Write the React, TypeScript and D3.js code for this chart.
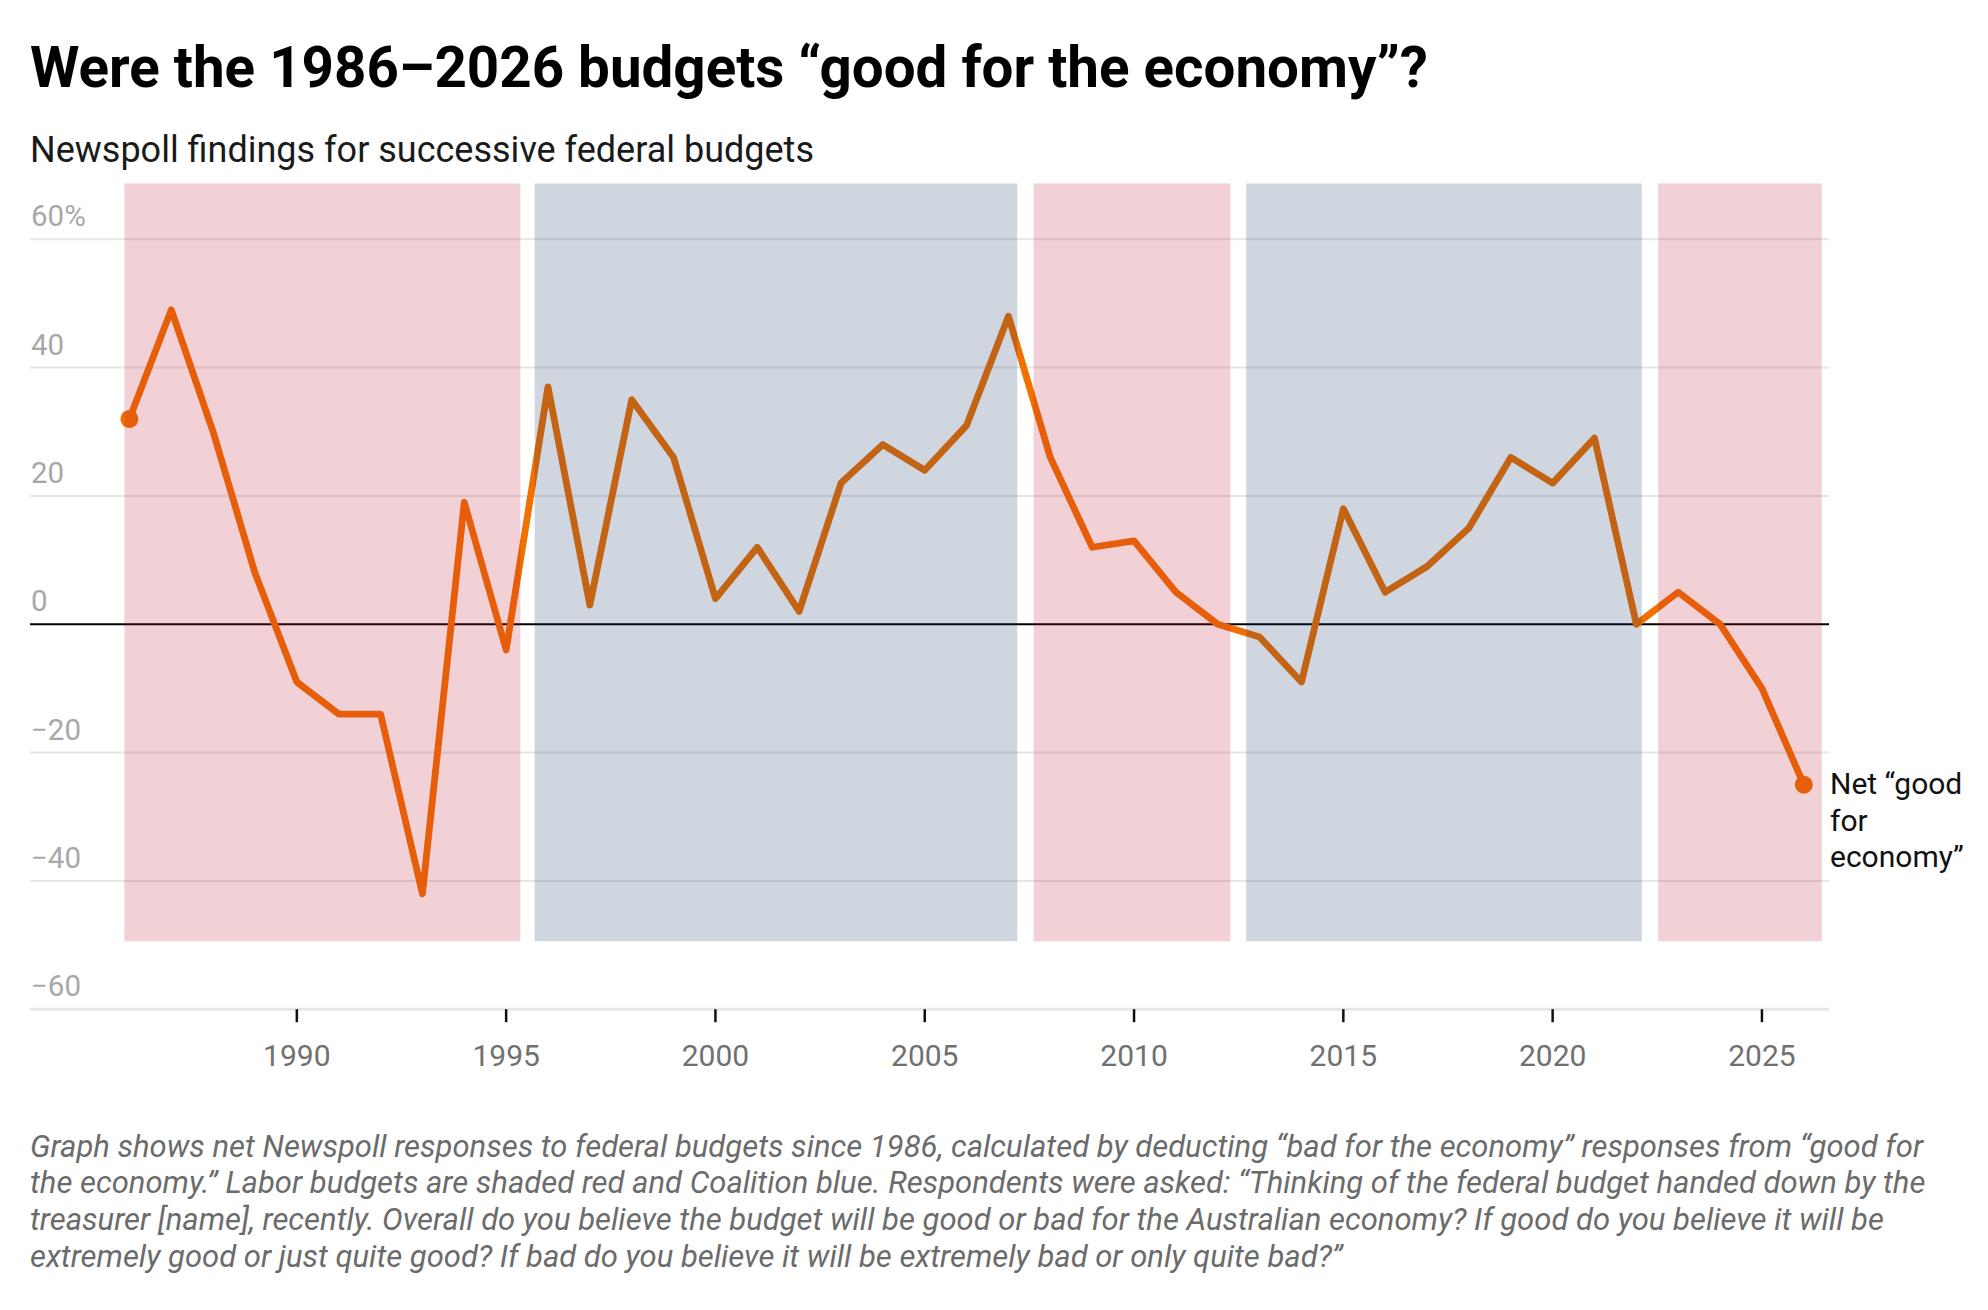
import * as d3 from 'd3';
import * as React from 'react';

// Newspoll net "good for the economy" per federal budget
const years = d3.range(1986, 2027);
const netGood = [
    32, 49, 30, 8, -9, -14, -14, -42, 19, -4,
    37, 3, 35, 26, 4, 12, 2, 22, 28, 24,
    31, 48, 26, 12, 13, 5, 0, -2, -9, 18,
    5, 9, 15, 26, 22, 29, 0, 5, 0, -10,
    -25,
];

// government terms, shaded over the line
const termParty = ['labor', 'coalition', 'labor', 'coalition', 'labor'];
const termStart = [1985.88, 1995.68, 2007.6, 2012.68, 2022.52];
const termEnd = [1995.34, 2007.21, 2012.3, 2022.13, 2026.43];
const termTop = 68.7;
const termBottom = -49.4;

const yTicks = [60, 40, 20, 0, -20, -40, -60];
const xTicks = [1990, 1995, 2000, 2005, 2010, 2015, 2020, 2025];

const labelLines = ['Net \u201cgood', 'for', 'economy\u201d'];
const noteLines = [
    'Graph shows net Newspoll responses to federal budgets since 1986, calculated by deducting \u201cbad for the economy\u201d responses from \u201cgood for',
    'the economy.\u201d Labor budgets are shaded red and Coalition blue. Respondents were asked: \u201cThinking of the federal budget handed down by the',
    'treasurer [name], recently. Overall do you believe the budget will be good or bad for the Australian economy? If good do you believe it will be',
    'extremely good or just quite good? If bad do you believe it will be extremely bad or only quite bad?\u201d',
];

const width = 1988;
const height = 1310;
const font = 'Roboto, "Noto Sans", sans-serif';
const lineColour = '#f07000';
const partyFill: Record<string, string> = {
    labor: 'rgb(190,25,50)',
    coalition: 'rgb(15,50,100)',
};

const gridLeft = 30;
const gridRight = 1829;

export default function App() {
    const x = d3.scaleLinear().domain([1986, 2026]).range([129.4, 1803.8]);
    const y = d3.scaleLinear().domain([-60, 60]).range([1009.2, 239.3]);

    const points = years.map((yr, i) => ({ yr, v: netGood[i] }));
    const line = d3.line<{ yr: number; v: number }>()
        .x(d => x(d.yr))
        .y(d => y(d.v));

    const first = points[0];
    const last = points[points.length - 1];

    return (
        <svg
            width={width}
            height={height}
            style={{ position: 'absolute', left: 0, top: 0, background: '#fff' }}
            fontFamily={font}
        >
            <text x={30} y={87} fontSize={56.5} fontWeight={700} fill="#000">
                Were the 1986–2026 budgets “good for the economy”?
            </text>
            <text x={30} y={162} fontSize={36} fill="#1a1a1a">
                Newspoll findings for successive federal budgets
            </text>

            {/* grid */}
            {yTicks.filter(t => t !== 0).map(t => (
                <line
                    key={t}
                    x1={gridLeft}
                    x2={gridRight}
                    y1={y(t)}
                    y2={y(t)}
                    stroke="#e6e6e6"
                    strokeWidth={t === -60 ? 3 : 2}
                />
            ))}
            <line x1={gridLeft} x2={gridRight} y1={y(0)} y2={y(0)} stroke="#000" strokeWidth={2} />
            {yTicks.map(t => (
                <text key={t} x={31} y={y(t) - 13} fontSize={29.5} fill="#a8a8a8">
                    {t === 60 ? '60%' : t < 0 ? `\u2212${-t}` : String(t)}
                </text>
            ))}

            {/* series */}
            <path
                d={line(points) || ''}
                fill="none"
                stroke={lineColour}
                strokeWidth={6.8}
                strokeLinejoin="round"
                strokeLinecap="round"
            />
            <circle cx={x(first.yr)} cy={y(first.v)} r={9} fill={lineColour} />
            <circle cx={x(last.yr)} cy={y(last.v)} r={9} fill={lineColour} />

            {/* government shading */}
            {termParty.map((p, i) => (
                <rect
                    key={i}
                    x={x(termStart[i])}
                    width={x(termEnd[i]) - x(termStart[i])}
                    y={y(termTop)}
                    height={y(termBottom) - y(termTop)}
                    fill={partyFill[p]}
                    fillOpacity={0.2}
                />
            ))}

            {/* x axis */}
            {xTicks.map(t => (
                <g key={t} transform={`translate(${x(t)},0)`}>
                    <line y1={y(-60)} y2={y(-60) + 13} stroke="#111" strokeWidth={2.5} />
                    <text y={1066} textAnchor="middle" fontSize={30} fill="#707070">{t}</text>
                </g>
            ))}

            {labelLines.map((l, i) => (
                <text key={i} x={1830} y={794 + i * 36.5} fontSize={30} fill="#111">{l}</text>
            ))}

            {noteLines.map((l, i) => (
                <text
                    key={i}
                    x={30}
                    y={1156.5 + i * 36.7}
                    fontSize={31}
                    fontStyle="italic"
                    fill="#6b6b6b"
                >
                    {l}
                </text>
            ))}
        </svg>
    );
}
